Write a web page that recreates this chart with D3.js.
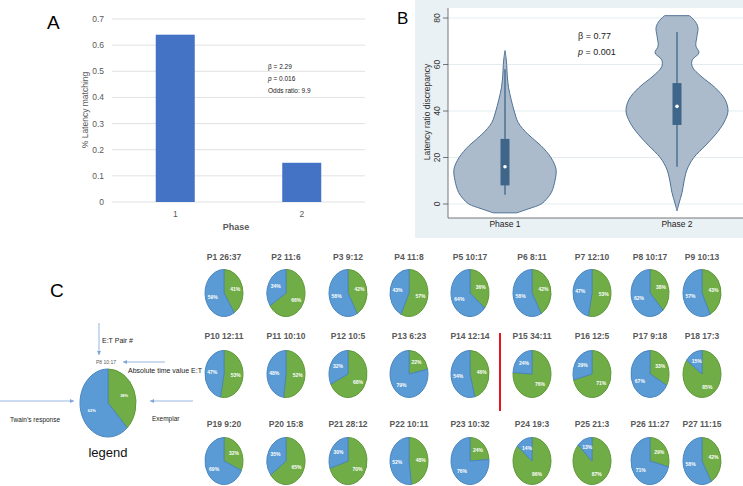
<!DOCTYPE html>
<html>
<head>
<meta charset="utf-8">
<script src="https://cdn.jsdelivr.net/npm/d3@7"></script>
<style>
  body { margin: 0; background: #fff; }
  svg { display: block; font-family: "Liberation Sans", Arial, sans-serif; }
</style>
</head>
<body>
<svg id="fig" width="743" height="486"></svg>
<script>
// ---- panel A data
const barPhases = ["1", "2"];
const barValues = [0.64, 0.15];
const barTicks = [0, 0.1, 0.2, 0.3, 0.4, 0.5, 0.6, 0.7];

// ---- panel B data (density, relative to widest point)
const violinPhases = ["Phase 1", "Phase 2"];
const violinTicks = [0, 20, 40, 60, 80];
const violin1 = [[-3.8, 0.23], [-2, 0.47], [0, 0.71], [2.5, 0.83], [5, 0.91], [10, 0.98], [15, 1.0],
  [20, 0.9], [25, 0.71], [30, 0.45], [35, 0.26], [40, 0.18], [45, 0.12], [50, 0.07], [55, 0.045],
  [60, 0.033], [63, 0.02], [66, 0]];
const violin2 = [[-3, 0], [0, 0.035], [5, 0.1], [10, 0.14], [15, 0.2], [20, 0.33], [25, 0.55], [30, 0.76],
  [35, 0.92], [40, 1.0], [45, 0.94], [50, 0.75], [55, 0.47], [59, 0.3], [62, 0.3], [65, 0.43], [68, 0.37],
  [72, 0.39], [76, 0.41], [79, 0.34], [81, 0.24]];
const boxMin = [4, 16];
const boxQ1 = [8, 34];
const boxMed = [16, 42];
const boxQ3 = [28, 52];
const boxMax = [58, 74];

// ---- panel C data
const pieIds = ["P1","P2","P3","P4","P5","P6","P7","P8","P9",
  "P10","P11","P12","P13","P14","P15","P16","P17","P18",
  "P19","P20","P21","P22","P23","P24","P25","P26","P27"];
const pieRatios = ["26:37","11:6","9:12","11:8","10:17","8:11","12:10","10:17","10:13",
  "12:11","10:10","10:5","6:23","12:14","34:11","12:5","9:18","17:3",
  "9:20","15:8","28:12","10:11","10:32","19:3","21:3","11:27","11:15"];
const pieExemplar = [41,66,42,57,36,42,53,38,43, 53,52,68,22,46,76,71,33,85, 32,65,70,48,24,86,87,29,42];
const pieTwain =    [59,34,58,43,64,58,47,62,57, 47,48,32,79,54,24,29,67,15, 69,35,30,52,76,14,13,71,58];
const legendPie = {id: "P8", ratio: "10:17", exemplar: 38, twain: 62};

const svg = d3.select("#fig");
const GREY = "#595959";

// ================= Panel A
const xA = d3.scalePoint().domain(barPhases).range([112, 365]).padding(0.5);
const yA = d3.scaleLinear().domain([0, 0.7]).range([202, 19]);
const gA = svg.append("g");

gA.selectAll("line.grid").data(barTicks).join("line")
    .attr("x1", 112).attr("x2", 365)
    .attr("y1", d => yA(d)).attr("y2", d => yA(d))
    .attr("stroke", "#d9d9d9").attr("stroke-width", 0.8);
gA.selectAll("text.tick").data(barTicks).join("text")
    .attr("x", 104).attr("y", d => yA(d) + 3)
    .attr("text-anchor", "end").attr("font-size", 8.5).attr("fill", GREY)
    .text(d => d3.format("")(d));
gA.selectAll("rect").data(barValues).join("rect")
    .attr("x", (d, i) => xA(barPhases[i]) - 19.5).attr("width", 39)
    .attr("y", d => yA(d)).attr("height", d => yA(0) - yA(d))
    .attr("fill", "#4472c4");
gA.selectAll("text.cat").data(barPhases).join("text")
    .attr("x", d => xA(d)).attr("y", 217).attr("text-anchor", "middle")
    .attr("font-size", 8.5).attr("fill", GREY).text(d => d);
gA.append("text").attr("x", 236).attr("y", 230).attr("text-anchor", "middle")
    .attr("font-size", 9).attr("font-weight", "bold").attr("fill", GREY).text("Phase");
gA.append("text").attr("transform", "translate(88,110) rotate(-90)").attr("text-anchor", "middle")
    .attr("font-size", 8.5).attr("fill", GREY).text("% Latency matching");
gA.append("text").attr("x", 47).attr("y", 29).attr("font-size", 19).text("A");

const statA = gA.append("g").attr("font-size", 6.5).attr("fill", "#222");
statA.append("text").attr("x", 268).attr("y", 69).text("β = 2.29");
const pA = statA.append("text").attr("x", 268).attr("y", 81);
pA.append("tspan").attr("font-style", "italic").text("p");
pA.append("tspan").text(" = 0.016");
statA.append("text").attr("x", 268).attr("y", 93).text("Odds ratio: 9.9");

// ================= Panel B
const gB = svg.append("g");
gB.append("rect").attr("x", 415).attr("y", 0).attr("width", 328).attr("height", 238).attr("fill", "#eaf1f4");
gB.append("rect").attr("x", 448).attr("y", 8).attr("width", 295).attr("height", 210).attr("fill", "#fff");

const xB = d3.scalePoint().domain(violinPhases).range([505, 677]);
const yB = d3.scaleLinear().domain([0, 80]).range([204, 18]);
const wB = d3.scaleLinear().domain([0, 1]).range([0, 51]);

gB.selectAll("line.grid").data(violinTicks).join("line")
    .attr("x1", 448).attr("x2", 743)
    .attr("y1", d => yB(d)).attr("y2", d => yB(d))
    .attr("stroke", "#e3edf0").attr("stroke-width", 1);
gB.selectAll("line.tk").data(violinTicks).join("line")
    .attr("x1", 443).attr("x2", 448)
    .attr("y1", d => yB(d)).attr("y2", d => yB(d))
    .attr("stroke", "#555").attr("stroke-width", 0.8);
gB.selectAll("text.tick").data(violinTicks).join("text")
    .attr("transform", d => `translate(440,${yB(d)}) rotate(-90)`)
    .attr("text-anchor", "middle").attr("font-size", 8.5).attr("fill", "#333")
    .text(d => d);
gB.append("text").attr("transform", "translate(430,112) rotate(-90)").attr("text-anchor", "middle")
    .attr("font-size", 8.5).attr("fill", "#333").text("Latency ratio discrepancy");

[violin1, violin2].forEach((prof, i) => {
  const cx = xB(violinPhases[i]);
  const area = d3.area().curve(d3.curveCatmullRom)
      .y(d => yB(d[0]))
      .x0(d => cx - wB(d[1]))
      .x1(d => cx + wB(d[1]));
  gB.append("path").attr("d", area(prof))
      .attr("fill", "#abbbcc").attr("stroke", "#4f7296").attr("stroke-width", 1);
  gB.append("line").attr("x1", cx).attr("x2", cx)
      .attr("y1", yB(boxMin[i])).attr("y2", yB(boxMax[i]))
      .attr("stroke", "#3f6589").attr("stroke-width", 1.3);
  gB.append("rect").attr("x", cx - 4.5).attr("width", 9)
      .attr("y", yB(boxQ3[i])).attr("height", yB(boxQ1[i]) - yB(boxQ3[i]))
      .attr("fill", "#3f6589");
  gB.append("circle").attr("cx", cx).attr("cy", yB(boxMed[i])).attr("r", 1.8).attr("fill", "#fff");
});

gB.append("path").attr("d", "M448,8V218H743").attr("fill", "none").attr("stroke", "#555").attr("stroke-width", 0.8);
gB.selectAll("text.cat").data(violinPhases).join("text")
    .attr("x", d => xB(d)).attr("y", 227).attr("text-anchor", "middle")
    .attr("font-size", 8.5).attr("fill", "#222").text(d => d);
gB.append("text").attr("x", 578).attr("y", 39).attr("font-size", 9).attr("fill", "#222").text("β = 0.77");
const pB = gB.append("text").attr("x", 578).attr("y", 55).attr("font-size", 9).attr("fill", "#222");
pB.append("tspan").attr("font-style", "italic").text("p");
pB.append("tspan").text(" = 0.001");
gB.append("text").attr("x", 397).attr("y", 24).attr("font-size", 17).text("B");

// ================= Panel C
const gC = svg.append("g");
const colX = d3.scaleOrdinal().domain(d3.range(9)).range([224, 286, 348, 409, 470, 532, 592, 650, 702]);
const rowY = d3.scaleOrdinal().domain([0, 1, 2]).range([293, 374, 461]);
const titleY = d3.scaleOrdinal().domain([0, 1, 2]).range([260, 339, 427]);

function drawPie(g, cx, cy, rx, ry, green, blue, fs, label) {
  const arcs = d3.pie().sort(null)([green, blue]);
  const arc = d3.arc().innerRadius(0).outerRadius(rx);
  const lab = d3.arc().innerRadius(rx * 0.62).outerRadius(rx * 0.62);
  const k = ry / rx;
  g.append("g").attr("transform", `translate(${cx},${cy}) scale(1,${k})`)
    .selectAll("path").data(arcs).join("path")
      .attr("d", arc)
      .attr("fill", (d, i) => i ? "#5b9bd5" : "#70ad47")
      .attr("stroke", (d, i) => i ? "#4a86c0" : "#5e9838")
      .attr("stroke-width", 1)
      .attr("vector-effect", "non-scaling-stroke");
  if (label) {
    g.selectAll(null).data(arcs).join("text")
      .attr("x", d => cx + lab.centroid(d)[0])
      .attr("y", d => cy + lab.centroid(d)[1] * k + fs * 0.35)
      .attr("text-anchor", "middle").attr("font-size", fs).attr("font-weight", "bold")
      .attr("fill", "#fff").text(d => d.value + "%");
  }
}

pieIds.forEach((id, i) => {
  const c = i % 9, r = Math.floor(i / 9);
  gC.append("text").attr("x", colX(c)).attr("y", titleY(r)).attr("text-anchor", "middle")
      .attr("font-size", 8.5).attr("font-weight", "bold").attr("fill", GREY)
      .text(id + " " + pieRatios[i]);
  drawPie(gC, colX(c), rowY(r), 19, 23.5, pieExemplar[i], pieTwain[i], 5, true);
});

// phase divider
gC.append("line").attr("x1", 500).attr("x2", 500).attr("y1", 333).attr("y2", 411)
    .attr("stroke", "#e8141b").attr("stroke-width", 2);

gC.append("text").attr("x", 50).attr("y", 297).attr("font-size", 19).text("C");

// legend
const ARROW = "#7ea6d8";
svg.append("defs").append("marker").attr("id", "ah")
    .attr("viewBox", "0 0 6 6").attr("refX", 6).attr("refY", 3)
    .attr("markerWidth", 5).attr("markerHeight", 5).attr("orient", "auto")
  .append("path").attr("d", "M0,0L6,3L0,6Z").attr("fill", ARROW);
const arrows = [[99, 323, 99, 355], [165, 362, 123, 362], [0, 401, 74, 401], [193, 401, 150, 401]];
gC.selectAll("line.arr").data(arrows).join("line")
    .attr("x1", d => d[0]).attr("y1", d => d[1]).attr("x2", d => d[2]).attr("y2", d => d[3])
    .attr("stroke", ARROW).attr("stroke-width", 0.8).attr("marker-end", "url(#ah)");
drawPie(gC, 108, 403, 28, 34, legendPie.exemplar, legendPie.twain, 4, true);
gC.append("text").attr("x", 102).attr("y", 343).attr("font-size", 7).attr("fill", "#222").text("E:T Pair #");
gC.append("text").attr("x", 96).attr("y", 364).attr("font-size", 5).attr("fill", GREY)
    .text(legendPie.id + "  " + legendPie.ratio);
gC.append("text").attr("x", 128).attr("y", 373).attr("font-size", 7).attr("fill", "#222").text("Absolute time value E:T");
gC.append("text").attr("x", 10).attr("y", 422).attr("font-size", 6.5).attr("fill", "#222").text("Twain’s response");
gC.append("text").attr("x", 152).attr("y", 421).attr("font-size", 6.5).attr("fill", "#222").text("Exemplar");
gC.append("text").attr("x", 108).attr("y", 457).attr("text-anchor", "middle").attr("font-size", 13).attr("fill", "#111").text("legend");
</script>
</body>
</html>
